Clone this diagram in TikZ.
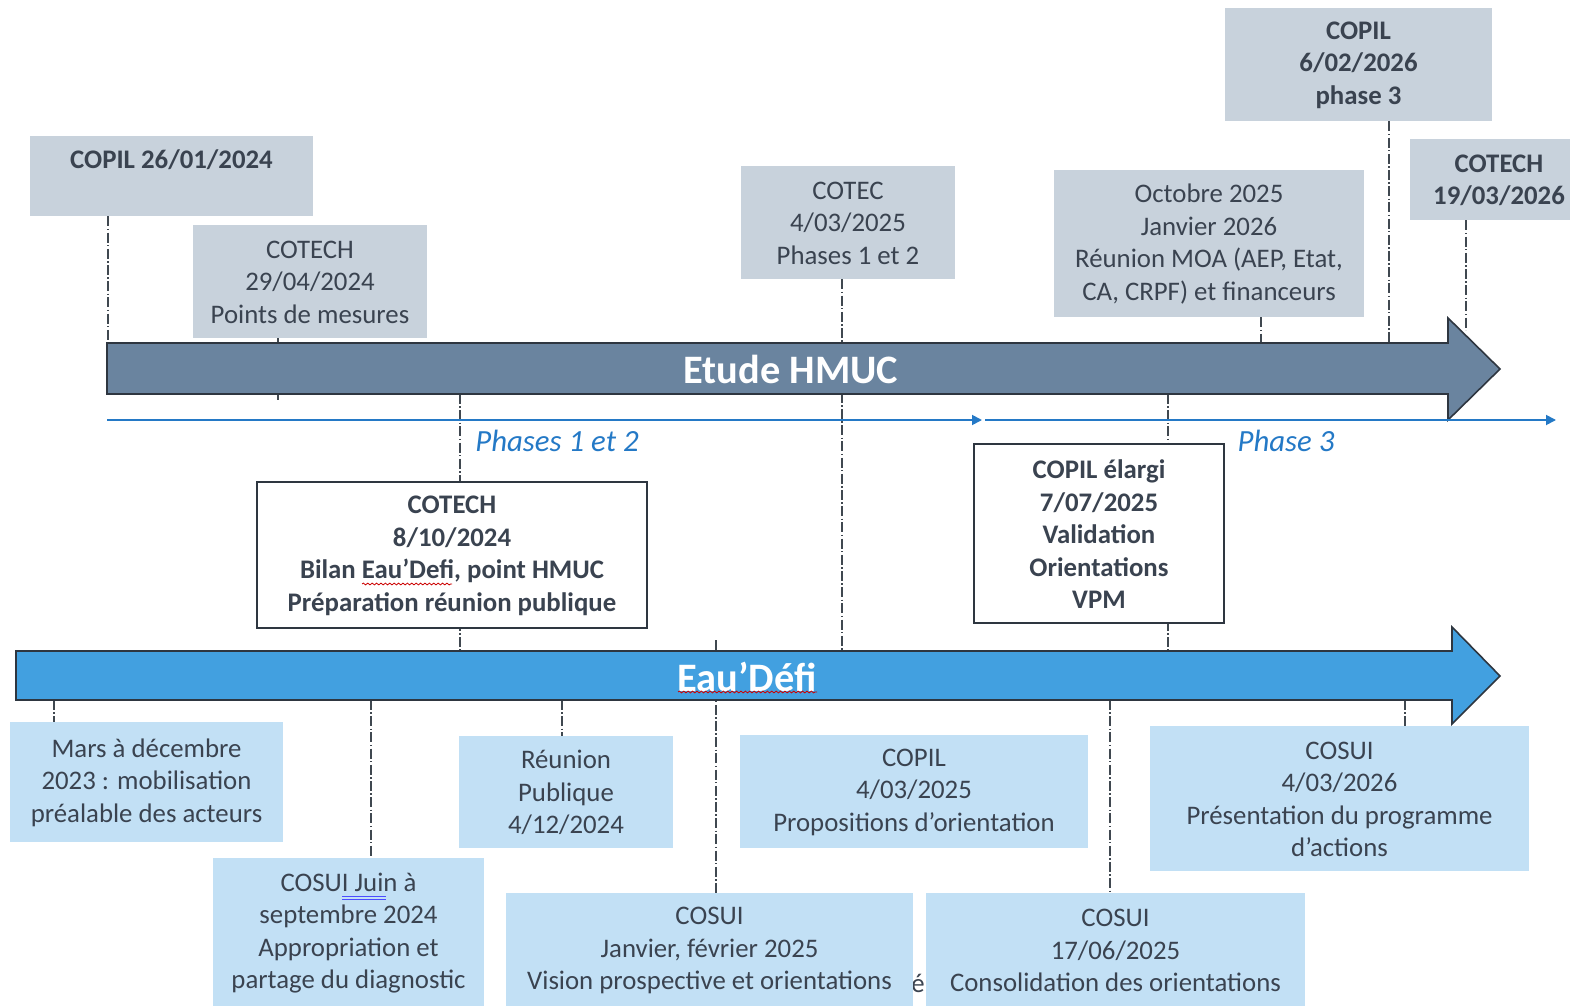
\documentclass[tikz,border=0pt]{standalone}
\usepackage{fontspec}
\setmainfont{Carlito}
\usetikzlibrary{fit,arrows.meta,decorations.pathmorphing}
\definecolor{graybox}{HTML}{C8D2DC}
\definecolor{txtc}{HTML}{3A4350}
\definecolor{lblue}{HTML}{C2E0F5}
\definecolor{hmucfill}{HTML}{6A849F}
\definecolor{eaufill}{HTML}{42A0E0}
\definecolor{arrline}{HTML}{2E3640}
\definecolor{blueln}{HTML}{2479C6}
\definecolor{dashc}{HTML}{404850}
\newcommand\fs{\fontsize{13.4pt}{16.25pt}\selectfont}
\newcommand\bigfs{\fontsize{20.2pt}{24pt}\selectfont}
\begin{document}
\begin{tikzpicture}[x=0.5pt,y=-0.5pt,
  gbox/.style={fill=graybox, draw=none, inner sep=0pt},
  bbox/.style={fill=lblue, draw=none, inner sep=0pt},
  wbox/.style={fill=white, draw=arrline, line width=0.7pt, inner sep=0pt},
  bt/.style={inner sep=0pt, align=center, text=txtc, font=\fs, yshift=-0.4pt},
  bbt/.style={bt, font=\bfseries\fs},
  dashln/.style={draw=dashc, line width=0.6pt, dash pattern=on 5pt off 1.2pt on 0.7pt off 1.2pt},
  bigarrow/.style={draw=arrline, line width=0.8pt, line join=miter},
  arrtext/.style={text=white, font=\bfseries\bigfs, inner sep=0pt},
  blueline/.style={draw=blueln, line width=0.9pt, -{Triangle[length=5pt,width=5pt]}},
  phasetxt/.style={text=blueln, font=\itshape\fontsize{15.4pt}{18pt}\selectfont, inner sep=0pt},
  spell/.style={draw=red!80!black, line width=0.4pt, decorate, decoration={snake, amplitude=0.45pt, segment length=2.2pt}},
]
\useasboundingbox (0,0) rectangle (1570,1006);

% tick coordinates on the arrows
\coordinate (hA) at (108,343);
\coordinate (hB) at (278,343);
\coordinate (hBb) at (278,394);
\coordinate (hBc) at (278,400);
\coordinate (hC) at (842,343);
\coordinate (hD) at (1261,343);
\coordinate (hE) at (1389,343);
\coordinate (hF) at (1466,330);
\coordinate (hG) at (460,394);
\coordinate (eG) at (460,651);
\coordinate (hH) at (1168,394);
\coordinate (eH) at (1168,651);
\coordinate (e1) at (54,700);
\coordinate (e2) at (371,700);
\coordinate (e3) at (562,700);
\coordinate (e4) at (716,640);
\coordinate (e5) at (1110,700);
\coordinate (e6) at (1405,700);
\coordinate (e7) at (842,700);

% stray character
\node[text=txtc, font=\fs, anchor=west, inner sep=0pt] (stray) at (911,983) {é:};

% boxes (top)
\node[gbox, fit={(30,136) (313,216)}] (copilA) {};
\node[text=txtc, font=\bfseries\fs, inner sep=0pt] (copilAt) at (171.5,160) {COPIL 26/01/2024};
\node[gbox, fit={(193,225) (427,338)}] (cotechA) {};
\node[bt] (cotechAt) at (cotechA.center) {COTECH\\29/04/2024\\Points de mesures};
\node[gbox, fit={(741,166) (955,279)}] (cotec) {};
\node[bt] (cotect) at (cotec.center) {COTEC\\4/03/2025\\Phases 1 et 2};
\node[gbox, fit={(1054,170) (1364,317)}] (moa) {};
\node[bt] (moat) at (moa.center) {Octobre 2025\\Janvier 2026\\Réunion MOA (AEP, Etat,\\CA, CRPF) et financeurs};
\node[gbox, fit={(1225,8) (1492,121)}] (copilB) {};
\node[bbt] (copilBt) at (copilB.center) {COPIL\\6/02/2026\\phase 3};
\node[gbox, fit={(1410,139) (1588,220)}] (cotechB) {};
\node[bbt] (cotechBt) at (cotechB.center) {COTECH\\19/03/2026};

% dashed lines
\draw[dashln] (copilA.south -| hA) -- (hA);
\draw[dashln] (cotechA.south -| hB) -- (hB);
\draw[dashln] (hBb) -- (hBc);
\draw[dashln] (cotec.south -| hC) -- (e7);
\draw[dashln] (moa.south -| hD) -- (hD);
\draw[dashln] (copilB.south -| hE) -- (hE);
\draw[dashln] (cotechB.south -| hF) -- (hF);
\draw[dashln] (hG) -- (eG);
\draw[dashln] (hH) -- (eH);
\draw[dashln] (e1) -- (e1 |- 0,722);
\draw[dashln] (e2) -- (e2 |- 0,858);
\draw[dashln] (e3) -- (e3 |- 0,736);
\draw[dashln] (e4) -- (e4 |- 0,893);
\draw[dashln] (e5) -- (e5 |- 0,893);
\draw[dashln] (e6) -- (e6 |- 0,726);

% big arrows
\draw[bigarrow, fill=hmucfill] (107,343) -- (1448,343) -- (1448,318) -- (1500,369) -- (1448,420) -- (1448,394) -- (107,394) -- cycle;
\node[arrtext] (hmuc) at (791,369) {Etude HMUC};
\draw[bigarrow, fill=eaufill] (16,651) -- (1452,651) -- (1452,627) -- (1500,676) -- (1452,724) -- (1452,700) -- (16,700) -- cycle;
\node[arrtext] (eau) at (747,677) {Eau’Défi};
\draw[spell] (678,692) -- (817,692);

% blue phase line
\coordinate (b0) at (107,420);
\coordinate (b1) at (982,420);
\coordinate (b2) at (985,420);
\coordinate (b3) at (1556,420);
\draw[blueline] (b0) -- (b1);
\draw[blueline] (b2) -- (b3);
\node[phasetxt] (ph12) at (557,441) {Phases 1 et 2};
\node[phasetxt] (ph3) at (1286,441) {Phase 3};

% white boxes
\node[wbox, fit={(257,482) (647,628)}] (cotechC) {};
\node[bbt] (cotechCt) at (cotechC.center) {COTECH\\8/10/2024\\Bilan Eau’Defi, point HMUC\\Préparation réunion publique};
\draw[spell] (362,584) -- (452,584);
\node[wbox, fit={(974,444) (1224,623)}] (copilEl) {};
\node[bbt] (copilElt) at (copilEl.center) {COPIL élargi\\7/07/2025\\Validation\\Orientations\\VPM};

% light blue boxes
\node[bbox, fit={(10,722) (283,842)}] (mars) {};
\node[bt] (marst) at (mars.center) {Mars à décembre\\2023 : mobilisation\\préalable des acteurs};
\node[bbox, fit={(213,858) (484,1007)}] (cosuiJ) {};
\node[bt] (cosuiJt) at (cosuiJ.center) {COSUI Juin à\\septembre 2024\\Appropriation et\\partage du diagnostic};
\draw[blue!70, line width=0.4pt] (342,896) -- (386,896) (342,899) -- (386,899);
\node[bbox, fit={(459,736) (673,848)}] (reunion) {};
\node[bt] (reuniont) at (reunion.center) {Réunion\\Publique\\4/12/2024};
\node[bbox, fit={(740,735) (1088,848)}] (copilC) {};
\node[bt] (copilCt) at (copilC.center) {COPIL\\4/03/2025\\Propositions d’orientation};
\node[bbox, fit={(506,893) (913,1007)}] (cosuiJan) {};
\node[bt] (cosuiJant) at (cosuiJan.center) {COSUI\\Janvier, février 2025\\Vision prospective et orientations};
\node[bbox, fit={(926,893) (1305,1007)}] (cosuiJun) {};
\node[bt] (cosuiJunt) at (cosuiJun.center) {COSUI\\17/06/2025\\Consolidation des orientations};
\node[bbox, fit={(1150,726) (1529,871)}] (cosuiM) {};
\node[bt] (cosuiMt) at (cosuiM.center) {COSUI\\4/03/2026\\Présentation du programme\\d’actions};
\end{tikzpicture}
\end{document}
